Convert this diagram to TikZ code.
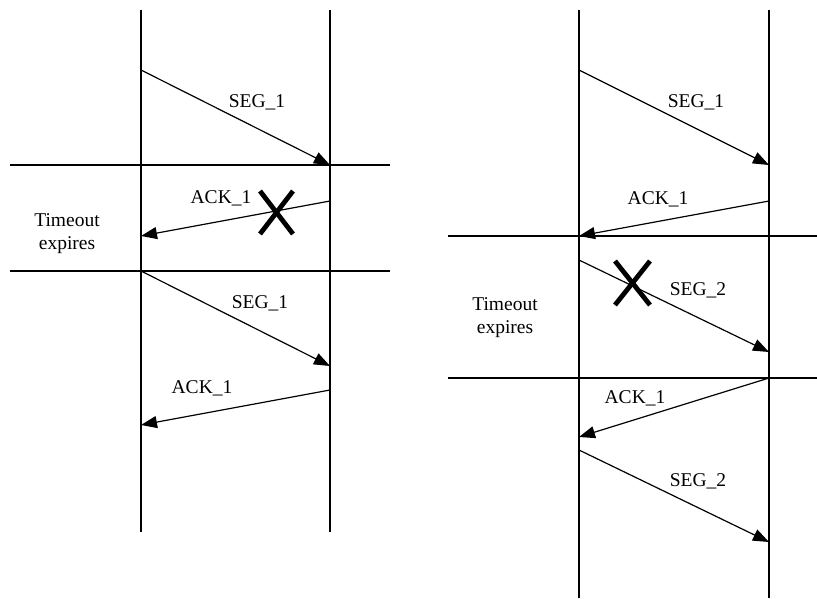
\documentclass[tikz,border=0pt]{standalone}
\usepackage{fontspec}
\setmainfont{Liberation Serif}
\usetikzlibrary{arrows.meta}
\begin{document}
\begin{tikzpicture}[x=1pt,y=-1pt,
  lane/.style={line width=1.3pt},
  divider/.style={line width=1.6pt},
  msg/.style={line width=1.2pt,-{Triangle[length=16pt,width=12pt]}},
  lbl/.style={font=\fontsize{19.5}{22.5}\selectfont,inner sep=0pt,anchor=base},
  note/.style={font=\fontsize{19.5}{22.5}\selectfont,inner sep=0pt,align=center,anchor=base},
  lost/.style={line width=4.8pt}]
\useasboundingbox (0,0) rectangle (817,598);
% ---------- left diagram ----------
\coordinate (LAt) at (141,10);  \coordinate (LAb) at (141,532);
\coordinate (LBt) at (330,10);  \coordinate (LBb) at (330,532);
\draw[lane] (LAt) -- (LAb);
\draw[lane] (LBt) -- (LBb);
\coordinate (LH1a) at (10,165); \coordinate (LH1b) at (390,165);
\coordinate (LH2a) at (10,271); \coordinate (LH2b) at (390,271);
\draw[divider] (LH1a) -- (LH1b);
\draw[divider] (LH2a) -- (LH2b);
\coordinate (ls1) at (141,70);  \coordinate (lr1) at (330,165);
\coordinate (la1) at (330,201); \coordinate (lt1) at (141,236);
\coordinate (ls2) at (141,271); \coordinate (lr2) at (330,366);
\coordinate (la2) at (330,390); \coordinate (lt2) at (141,425);
\draw[msg] (ls1) -- (lr1);
\draw[msg] (la1) -- (lt1);
\draw[msg] (ls2) -- (lr2);
\draw[msg] (la2) -- (lt2);
\node[lbl] (lseg1) at (257,107) {SEG\_1};
\node[lbl] (lack1) at (221,203) {ACK\_1};
\node[lbl] (lseg1b) at (260,308) {SEG\_1};
\node[lbl] (lack1b) at (202,393) {ACK\_1};
\node[note] (lto) at (67,249) {Timeout\\expires};
\coordinate (lx1) at (260,191); \coordinate (lx2) at (293,234);
\coordinate (lx3) at (293,191); \coordinate (lx4) at (260,234);
\draw[lost] (lx1) -- (lx2);
\draw[lost] (lx3) -- (lx4);
% ---------- right diagram ----------
\coordinate (RAt) at (579,10);  \coordinate (RAb) at (579,598);
\coordinate (RBt) at (769,10);  \coordinate (RBb) at (769,598);
\draw[lane] (RAt) -- (RAb);
\draw[lane] (RBt) -- (RBb);
\coordinate (RH1a) at (448,236); \coordinate (RH1b) at (817,236);
\coordinate (RH2a) at (448,378); \coordinate (RH2b) at (817,378);
\draw[divider] (RH1a) -- (RH1b);
\draw[divider] (RH2a) -- (RH2b);
\coordinate (rs1) at (579,70);  \coordinate (rr1) at (769,165);
\coordinate (ra1) at (769,201); \coordinate (rt1) at (579,236);
\coordinate (rs2) at (579,260); \coordinate (rr2) at (769,352);
\coordinate (ra2) at (769,378); \coordinate (rt2) at (579,437);
\coordinate (rs3) at (579,450); \coordinate (rr3) at (769,542);
\draw[msg] (rs1) -- (rr1);
\draw[msg] (ra1) -- (rt1);
\draw[msg] (rs2) -- (rr2);
\draw[msg] (ra2) -- (rt2);
\draw[msg] (rs3) -- (rr3);
\node[lbl] (rseg1) at (696,107) {SEG\_1};
\node[lbl] (rack1) at (658,204) {ACK\_1};
\node[lbl] (rseg2) at (698,295) {SEG\_2};
\node[lbl] (rack1b) at (635,403) {ACK\_1};
\node[lbl] (rseg2b) at (698,486) {SEG\_2};
\node[note] (rto) at (505,333) {Timeout\\expires};
\coordinate (rx1) at (615,261); \coordinate (rx2) at (650,305);
\coordinate (rx3) at (650,261); \coordinate (rx4) at (615,305);
\draw[lost] (rx1) -- (rx2);
\draw[lost] (rx3) -- (rx4);
\end{tikzpicture}
\end{document}
